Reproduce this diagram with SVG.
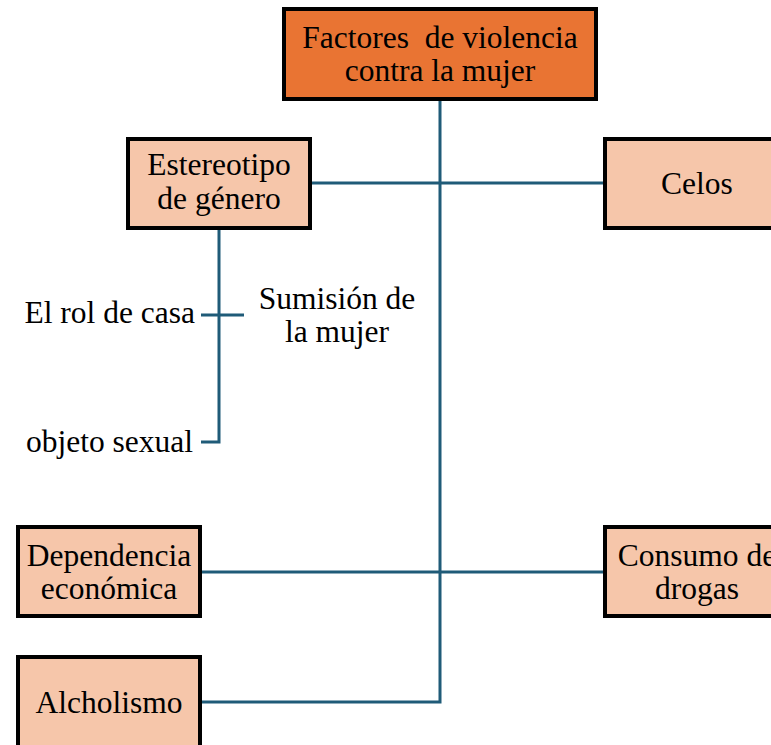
<svg xmlns="http://www.w3.org/2000/svg" width="771" height="745" viewBox="0 0 771 745">
<style>
.box{stroke:#000;stroke-width:4}
.main{fill:#E97433}
.sub{fill:#F6C6AA}
.t{font-family:"Liberation Serif","Times New Roman",serif;font-size:31.5px;fill:#000;text-anchor:middle;white-space:pre}
.l{font-family:"Liberation Serif","Times New Roman",serif;font-size:31.5px;fill:#000}
.c{fill:none;stroke:#1F5B78;stroke-width:3}
</style>
<rect width="771" height="745" fill="#fff"/>
<g id="connectors">
<path class="c" d="M440 100 V702 H200"/>
<path class="c" d="M310 183 H605"/>
<path class="c" d="M200 572 H605"/>
<path class="c" d="M219 230 V442 H201"/>
<path class="c" d="M201 315 H244"/>
</g>
<g id="n-main">
<rect class="box main" x="284" y="9" width="312" height="90"/>
<text class="t" x="440" y="48" xml:space="preserve">Factores  de violencia</text>
<text class="t" x="440" y="81">contra la mujer</text>
</g>
<g id="n-estereotipo">
<rect class="box sub" x="128" y="139" width="182" height="89"/>
<text class="t" x="219" y="175">Estereotipo</text>
<text class="t" x="219" y="209">de género</text>
</g>
<g id="n-celos">
<rect class="box sub" x="605" y="139" width="190" height="89"/>
<text class="t" x="697" y="194">Celos</text>
</g>
<g id="n-rol">
<text class="l" x="195" y="323" text-anchor="end">El rol de casa</text>
</g>
<g id="n-sumision">
<text class="t" x="337" y="309">Sumisión de</text>
<text class="t" x="337" y="342">la mujer</text>
</g>
<g id="n-objeto">
<text class="l" x="193" y="452" text-anchor="end">objeto sexual</text>
</g>
<g id="n-dependencia">
<rect class="box sub" x="18" y="527" width="182" height="89"/>
<text class="t" x="109" y="566">Dependencia</text>
<text class="t" x="109" y="599">económica</text>
</g>
<g id="n-consumo">
<rect class="box sub" x="605" y="527" width="190" height="89"/>
<text class="t" x="697" y="566">Consumo de</text>
<text class="t" x="697" y="599">drogas</text>
</g>
<g id="n-alcholismo">
<rect class="box sub" x="18" y="657" width="182" height="100"/>
<text class="t" x="109" y="713">Alcholismo</text>
</g>
</svg>
